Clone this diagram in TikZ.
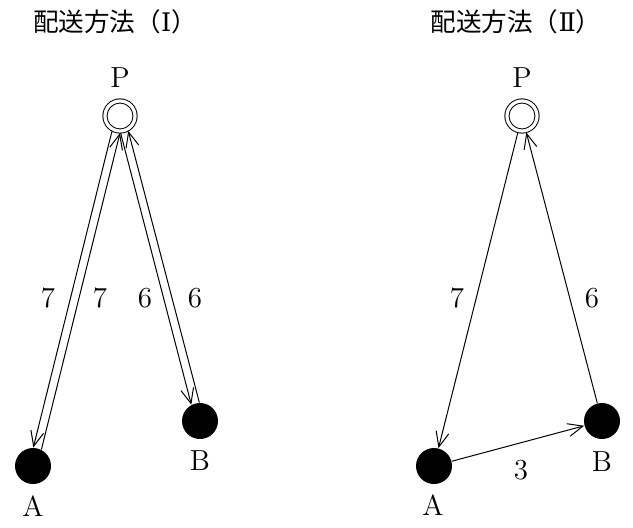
\documentclass[tikz,border=0pt]{standalone}
\usepackage{fontspec}
\newfontfamily\jpfont{Noto Sans CJK JP}
\newfontfamily\numfont{DejaVu Serif}
\usetikzlibrary{arrows.meta}

\begin{document}
\begin{tikzpicture}
[
	              x = 0.5pt,
	              y = -0.5pt,
	           >= {Straight Barb[length=7.5pt,width=6.5pt]},
	     line width = 0.5pt,
	   depot/.style = { draw=black, circle, double, double distance=1.6pt, minimum size=15pt, inner sep=0pt, outer sep=1pt },
	    shop/.style = { fill=black, circle, minimum size=18pt, inner sep=0pt },
	   title/.style = { font=\jpfont\fontsize{12.8}{15}\selectfont },
	     txt/.style = { font=\fontsize{14.5}{17}\selectfont, inner sep=0pt }
]
	\useasboundingbox (0,0) rectangle (633,527);

	% first method
	% nodes
	\node (T1) at (115,22)  [title] {配送方法（{\numfont Ⅰ}）};
	\node (P1) at (120,116) [depot] {};
	\node (A1) at (33,466)  [shop]  {};
	\node (B1) at (200,421) [shop]  {};
	\node (p1) at (120,78)  [txt]   {P};
	\node (a1) at (33,506)  [txt]   {A};
	\node (b1) at (200,461) [txt]   {B};
	\node (d1) at (48,298)  [txt]   {7};
	\node (d2) at (100,298) [txt]   {7};
	\node (d3) at (145,298) [txt]   {6};
	\node (d4) at (195,298) [txt]   {6};

	% edges
	\draw [->] (P1.-118) -- (A1.89);
	\draw [->] (A1.63)   -- (P1.-90);
	\draw [->] (P1.-88)  -- (B1.118);
	\draw [->] (B1.92)   -- (P1.-61);

	% second method
	% nodes
	\node (T2) at (516,22)  [title] {配送方法（{\numfont Ⅱ}）};
	\node (P2) at (522,116) [depot] {};
	\node (A2) at (434,466) [shop]  {};
	\node (B2) at (602,421) [shop]  {};
	\node (p2) at (522,78)  [txt]   {P};
	\node (a2) at (433,505) [txt]   {A};
	\node (b2) at (602,462) [txt]   {B};
	\node (d5) at (457,298) [txt]   {7};
	\node (d6) at (592,298) [txt]   {6};
	\node (d7) at (521,470) [txt]   {3};

	% edges
	\draw [->] (P2) -- (A2);
	\draw [->] (B2) -- (P2);
	\draw [->] (A2) -- (B2);
\end{tikzpicture}
\end{document}
